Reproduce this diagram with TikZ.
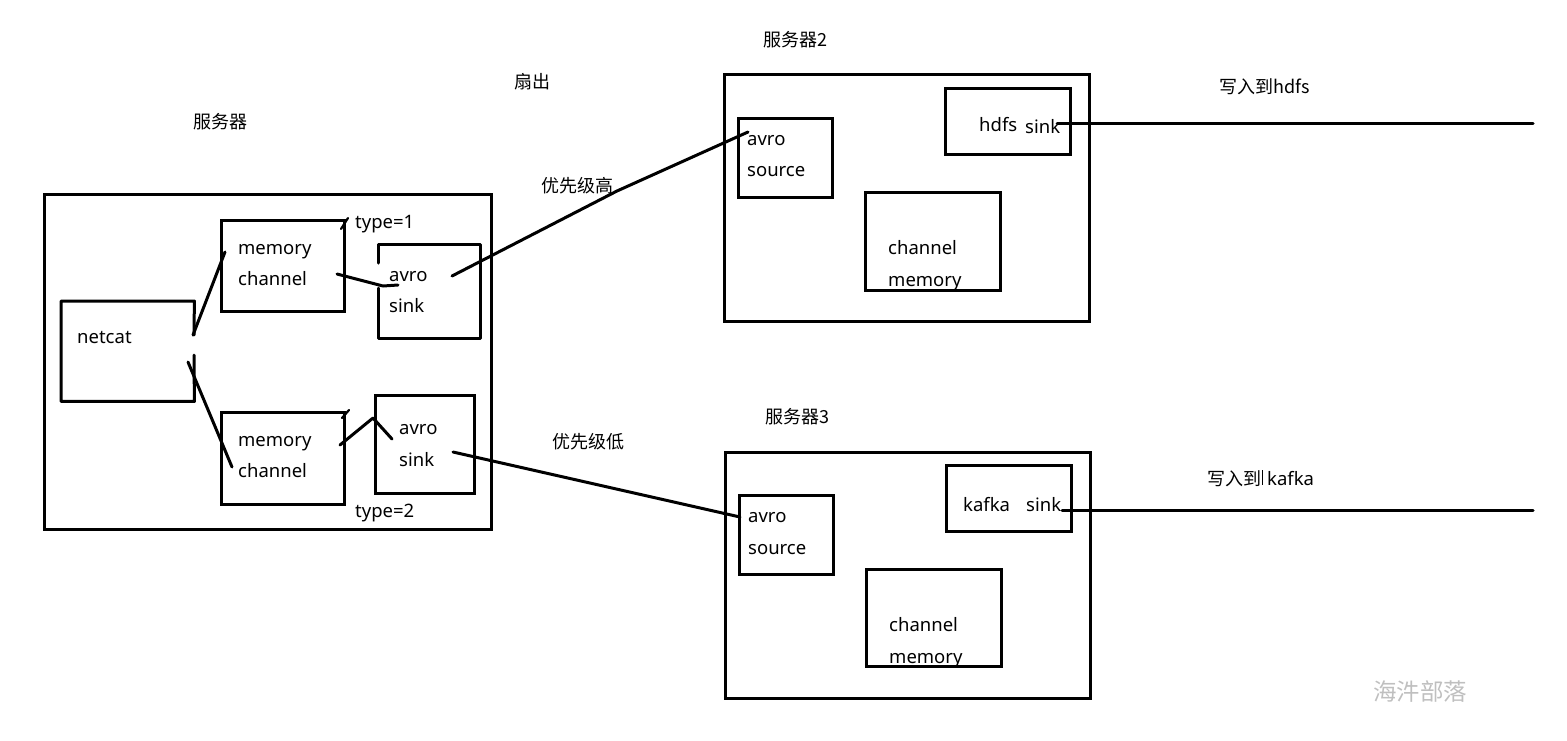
\documentclass[tikz,border=0pt]{standalone}
\usepackage{fontspec}
\setmainfont{Noto Sans}
\newfontfamily\cjk{Noto Sans CJK SC}
\begin{document}
\begin{tikzpicture}[x=1pt,y=-1pt,
  box/.style={draw, line width=3pt, inner sep=0pt, anchor=north west},
  lbl/.style={anchor=west, inner sep=0pt, font=\fontsize{18.5}{20}\selectfont, text height=13pt, text depth=4pt, yshift=-2pt},
  zh/.style={anchor=west, inner sep=0pt, font=\cjk\fontsize{18}{20}\selectfont, text height=13pt, text depth=4pt, yshift=-2pt},
  wire/.style={line width=3pt, line cap=round, line join=round},
  thin/.style={line width=2.2pt, line cap=round, line join=round},
  wm/.style={anchor=west, inner sep=0pt, font=\cjk\fontsize{23.5}{25}\selectfont, text=black!25}]
\useasboundingbox (0,0) rectangle (1567,740);
% server 1
\node[box, minimum width=447pt, minimum height=335pt] (srv1) at (43,193) {};
\node[box, minimum width=123pt, minimum height=91pt] (mem1) at (220,219) {};
\node[box, minimum width=123pt, minimum height=92pt] (mem2) at (220,411) {};
\node[box, minimum width=99pt, minimum height=98pt] (sink2) at (374,394) {};
\node[inner sep=0pt, minimum width=133pt, minimum height=100pt, anchor=north west] (netcat) at (61,301) {};
\node[inner sep=0pt, minimum width=102pt, minimum height=94pt, anchor=north west] (sink1) at (378,244) {};
\draw[wire] (194,335) -- (netcat.north east) -- (netcat.north west) -- (netcat.south west) -- (netcat.south east) -- (194,355);
\draw[wire] (378,263) -- (sink1.north west) -- (sink1.north east) -- (sink1.south east) -- (sink1.south west) -- (378,288);
% server 2
\node[box, minimum width=365pt, minimum height=247pt] (srv2) at (723,73) {};
\node[box, minimum width=94pt, minimum height=79pt] (src2) at (737,117) {};
\node[box, minimum width=125pt, minimum height=66pt] (hdfs) at (944,87) {};
\node[box, minimum width=135pt, minimum height=98pt] (ch2) at (864,191) {};
% server 3
\node[box, minimum width=365pt, minimum height=246pt] (srv3) at (724,451) {};
\node[box, minimum width=94pt, minimum height=79pt] (src3) at (738,494) {};
\node[box, minimum width=125pt, minimum height=66pt] (kafka) at (945,464) {};
\node[box, minimum width=135pt, minimum height=97pt] (ch3) at (865,568) {};
% labels
\node[zh] (t1) at (193,122) {服务器};
\node[zh] (t2) at (514,82) {扇出};
\node[zh] (t3) at (541,186) {优先级高};
\node[zh] (t4) at (552,442) {优先级低};
\node[zh] (t5) at (763,40) {服务器2};
\node[zh] (t6) at (765,417) {服务器3};
\node[zh] (t7) at (1219,87) {写入到hdfs};
\node[zh] (t8) at (1207,479) {写入到};
\node[lbl] (t9) at (1267,479) {kafka};
\node[lbl] (l1) at (77,337) {netcat};
\node[lbl] (l2) at (238,248) {memory};
\node[lbl] (l3) at (238,279) {channel};
\node[lbl] (l4) at (355,222) {type=1};
\node[lbl] (l5) at (389,275) {avro};
\node[lbl] (l6) at (389,306) {sink};
\node[lbl] (l7) at (238,440) {memory};
\node[lbl] (l8) at (238,471) {channel};
\node[lbl] (l9) at (399,428) {avro};
\node[lbl] (l10) at (399,460) {sink};
\node[lbl] (l11) at (355,511) {type=2};
\node[lbl] (l12) at (747,139) {avro};
\node[lbl] (l13) at (747,170) {source};
\node[lbl] (l14) at (979,125) {hdfs};
\node[lbl] (l15) at (1025,127) {sink};
\node[lbl] (l16) at (888,248) {channel};
\node[lbl] (l17) at (888,280) {memory};
\node[lbl] (l18) at (748,516) {avro};
\node[lbl] (l19) at (748,548) {source};
\node[lbl] (l20) at (963,505) {kafka};
\node[lbl] (l21) at (1026,505) {sink};
\node[lbl] (l22) at (889,625) {channel};
\node[lbl] (l23) at (889,657) {memory};
\node[wm] (w) at (1373,692) {海汼部落};
% connector end points
\coordinate (nA) at (193,335);
\coordinate (mA) at (225,252);
\coordinate (nB) at (188,362);
\coordinate (mB) at (232,467);
\coordinate (mC) at (337,274);
\coordinate (sC) at (398,285);
\coordinate (mD) at (340,445);
\coordinate (sD) at (392,439);
\coordinate (sE) at (452,276);
\coordinate (rE) at (748,132);
\coordinate (sF) at (453,452);
\coordinate (rF) at (740,517);
\coordinate (hG) at (1057,123);
\coordinate (eG) at (1533,123);
\coordinate (kH) at (1062,510);
\coordinate (eH) at (1533,510);
\coordinate (cu1) at (1262,470);
\coordinate (cu2) at (1262,485);
% connectors
\draw[wire] (nA) -- (mA);
\draw[wire] (nB) -- (mB);
\draw[wire] (mC) -- (383,286) -- (sC);
\draw[wire] (mD) -- (373,418) -- (sD);
\draw[thin] (341,229) -- (348,218);
\draw[thin] (342,418) -- (349,410);
\draw[wire] (sE) -- (617,191) -- (rE);
\draw[wire] (sF) -- (rF);
\draw[wire] (hG) -- (eG);
\draw[wire] (kH) -- (eH);
\draw[line width=1pt] (cu1) -- (cu2);
\end{tikzpicture}
\end{document}
